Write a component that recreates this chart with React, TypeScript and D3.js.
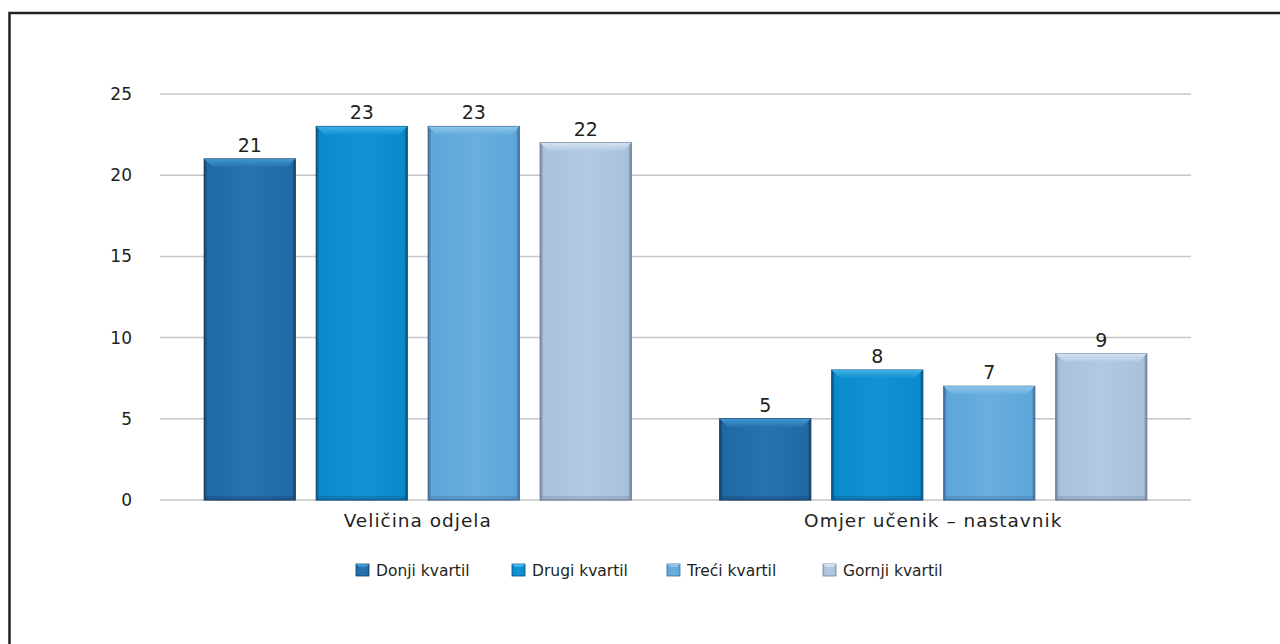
import React from "react";
import * as d3 from "d3";

const categories = ["Veličina odjela", "Omjer učenik – nastavnik"];
const seriesNames = ["Donji kvartil", "Drugi kvartil", "Treći kvartil", "Gornji kvartil"];
const donji = [21, 5];
const drugi = [23, 8];
const treci = [23, 7];
const gornji = [22, 9];
const yTicks = [0, 5, 10, 15, 20, 25];

const seriesValues = [donji, drugi, treci, gornji];
const colors = [
  { base: "#1e6aa6", light: "#2673b0", dark: "#163f66", top: "#3f97d2" },
  { base: "#0a8acb", light: "#1293d3", dark: "#0b4f80", top: "#3fb0e6" },
  { base: "#5ea6da", light: "#68aede", dark: "#3d6a99", top: "#8cc6ec" },
  { base: "#a9c1dc", light: "#b3c9e2", dark: "#6f8198", top: "#d3e2f1" },
];

const W = 1280;
const H = 644;
const font = "'DejaVu Sans', 'Liberation Sans', Arial, sans-serif";

export default function App() {
  const plotLeft = 160;
  const plotRight = 1191;
  const x0 = d3.scaleBand<string>().domain(categories).range([plotLeft, plotRight]).paddingInner(0).paddingOuter(0);
  const y = d3.scaleLinear().domain([0, 25]).range([500, 94]);
  const groupW = 427;
  const x1 = d3
    .scaleBand<string>()
    .domain(seriesNames)
    .range([0, groupW])
    .paddingInner(0.1875)
    .paddingOuter(0);

  const bev = 8;
  const legendX = [356, 512, 667, 823];

  return (
    <svg width={W} height={H} style={{ position: "absolute", left: 0, top: 0 }}>
      <defs>
        {colors.map((c, i) => (
          <linearGradient key={"h" + i} id={"gh" + i} x1="0" x2="1" y1="0" y2="0">
            <stop offset="0" stopColor={c.dark} />
            <stop offset="0.035" stopColor={c.base} />
            <stop offset="0.5" stopColor={c.light} />
            <stop offset="0.965" stopColor={c.base} />
            <stop offset="1" stopColor={c.dark} />
          </linearGradient>
        ))}
        {colors.map((c, i) => (
          <linearGradient key={"t" + i} id={"gt" + i} x1="0" x2="0" y1="0" y2="1">
            <stop offset="0" stopColor={c.top} />
            <stop offset="1" stopColor={c.light} />
          </linearGradient>
        ))}
      </defs>
      <rect x={0} y={0} width={W} height={H} fill="#fff" />
      <path d={`M9.5,${H + 5} L9.5,13 L${W + 5},13`} fill="none" stroke="#231f20" strokeWidth={2.5} />

      {yTicks.map((t) => (
        <g key={t}>
          <line x1={plotLeft} x2={plotRight} y1={y(t)} y2={y(t)} stroke="#c6c6c8" strokeWidth={1.5} />
          <text x={132} y={y(t) + 6} textAnchor="end" fontFamily={font} fontSize={17} fill="#231f20">
            {t}
          </text>
        </g>
      ))}

      {categories.map((cat, ci) => {
        const gx = (x0(cat) as number) + (x0.bandwidth() - groupW) / 2;
        return (
          <g key={cat}>
            {seriesNames.map((s, si) => {
              const v = seriesValues[si][ci];
              const bx = gx + (x1(s) as number);
              const bw = x1.bandwidth();
              const by = y(v);
              const bh = y(0) - by;
              const c = colors[si];
              return (
                <g key={s}>
                  <rect x={bx} y={by} width={bw} height={bh} fill={`url(#gh${si})`} />
                  <rect x={bx} y={by} width={bw} height={bh} fill="none" stroke={c.dark} strokeWidth={1.2} />
                  <path
                    d={`M${bx},${by} L${bx + bw},${by} L${bx + bw - bev},${by + bev} L${bx + bev},${by + bev} Z`}
                    fill={`url(#gt${si})`}
                  />
                  <rect x={bx + 1} y={y(0) - 4} width={bw - 2} height={4} fill={c.dark} opacity={0.3} />
                  <text
                    x={bx + bw / 2}
                    y={by - 7}
                    textAnchor="middle"
                    fontFamily={font}
                    fontSize={19}
                    fill="#231f20"
                  >
                    {v}
                  </text>
                </g>
              );
            })}
            <text
              x={(x0(cat) as number) + x0.bandwidth() / 2}
              y={527}
              textAnchor="middle"
              fontFamily={font}
              fontSize={18.5}
              letterSpacing={1}
              fill="#231f20"
            >
              {cat}
            </text>
          </g>
        );
      })}

      {seriesNames.map((s, si) => {
        const lx = legendX[si];
        const c = colors[si];
        return (
          <g key={s}>
            <rect x={lx} y={564} width={13} height={12} fill={`url(#gh${si})`} stroke={c.dark} strokeWidth={0.8} />
            <path d={`M${lx},564 L${lx + 13},564 L${lx + 10},567 L${lx + 3},567 Z`} fill={c.top} />
            <text x={lx + 20} y={576} fontFamily={font} fontSize={15.5} fill="#231f20">
              {s}
            </text>
          </g>
        );
      })}
    </svg>
  );
}
